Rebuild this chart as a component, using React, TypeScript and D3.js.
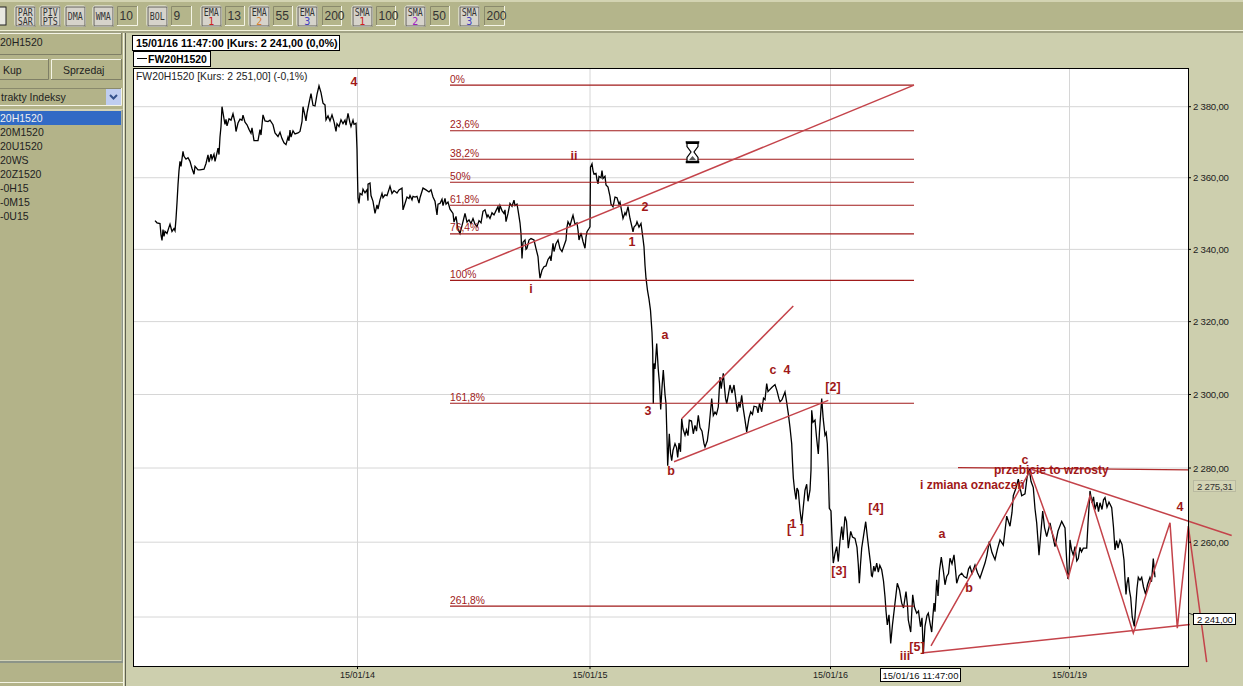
import * as d3 from "d3";

// [bar number, price], one list per trading session
const sessionJan13: [number, number][] = [
  [21, 2348], [23, 2347.4], [26, 2347.2], [27, 2344], [28, 2342.5], [29, 2345.5], [30, 2343.6], [31, 2345], [33, 2344.4], [35, 2346.2],
  [36, 2347], [38, 2345], [40, 2345.8], [41, 2345.2], [42, 2348.5], [43, 2353], [44, 2358], [45, 2362], [46, 2364.6], [47, 2363.2],
  [49, 2367.4], [50, 2366], [52, 2365.2], [54, 2365.6], [56, 2364.6], [58, 2362.6], [60, 2361], [61, 2363.2], [64, 2362.2], [66, 2362.2],
  [70, 2362.4], [72, 2364], [74, 2366.4], [75, 2364.4], [77, 2366.6], [78, 2365.2], [80, 2366.6], [81, 2364.6], [83, 2367], [84, 2368.3],
  [85, 2366.5], [86, 2371.5], [87, 2374.4], [88, 2380], [90, 2376.6], [91, 2375], [92, 2376.4], [93, 2374.6], [95, 2376.6], [97, 2376.2],
  [99, 2378], [101, 2375.6], [102, 2373], [104, 2375.4], [106, 2376.5], [108, 2376.2], [109, 2377.6], [111, 2375.6], [113, 2374.9],
  [115, 2373.6], [117, 2372.5], [118, 2374], [120, 2370.4], [124, 2370.4], [126, 2373.5], [127, 2372], [129, 2377.7], [131, 2376],
  [134, 2375.8], [136, 2376.2], [139, 2374.9], [141, 2372.6], [144, 2371.6], [146, 2372.8], [148, 2371], [150, 2369.8], [152, 2369.3],
  [154, 2371.4], [155, 2370.4], [156, 2373.4], [157, 2371.4], [159, 2373.2], [161, 2372.3], [164, 2372.6], [166, 2373], [168, 2375.8],
  [169, 2380], [171, 2377.4], [172, 2376], [173, 2378.2], [175, 2381], [177, 2383.7], [179, 2380.4], [181, 2380.2], [183, 2383.5],
  [185, 2385.9], [187, 2384], [189, 2381], [191, 2380.5], [192, 2376.3], [194, 2377.4], [196, 2376], [198, 2377.7], [200, 2375.8],
  [202, 2373], [203, 2375.2], [205, 2374.4], [207, 2376.3], [209, 2375.2], [211, 2376.2], [212, 2374.8], [214, 2378.1], [216, 2375.4],
  [217, 2374.4], [219, 2376.2], [220, 2375], [222, 2375.3],
];
const sessionJan14: [number, number][] = [
  [223, 2368], [223.5, 2360.4], [224, 2354.3], [225, 2352.8], [226, 2355.6], [228, 2355.2], [229, 2356.8], [231, 2355.8], [233, 2356.6],
  [234, 2353.6], [234, 2358.2], [236, 2358.5], [237, 2355], [239, 2353.4], [241, 2350], [243, 2352.4], [244, 2351.2], [246, 2353.8],
  [248, 2355.6], [249, 2354.4], [251, 2355.2], [253, 2355], [256, 2357.6], [258, 2355.6], [260, 2356.4], [263, 2355.7], [265, 2356.6],
  [268, 2357.1], [269, 2351], [271, 2352.8], [273, 2354.6], [275, 2354.2], [276, 2355], [278, 2353.8], [279, 2354.8], [281, 2354.6],
  [283, 2354.8], [285, 2352.9], [286, 2354.4], [289, 2357.1], [292, 2356.6], [295, 2356], [297, 2356.6], [299, 2354.6], [301, 2353.4],
  [303, 2349.6], [304, 2352.6], [306, 2352.8], [308, 2354], [309, 2352.2], [311, 2354.2], [312, 2352.6], [314, 2353.2], [316, 2351.2],
  [319, 2350], [320, 2347.6], [322, 2349.2], [324, 2345.6], [326, 2344.4], [328, 2346.6], [331, 2350], [333, 2347.6], [335, 2348.2],
  [337, 2347.2], [339, 2348.6], [341, 2347], [343, 2346.3], [345, 2348], [347, 2347.4], [349, 2350.6], [351, 2351], [353, 2349],
  [354, 2349.6], [356, 2348.6], [358, 2350.2], [360, 2349.6], [362, 2350.8], [364, 2351.9], [365, 2350.2], [366, 2352.2], [368, 2350.8],
  [370, 2350], [371, 2351], [372, 2347.7], [374, 2350], [376, 2352.8], [378, 2352], [380, 2353.7], [381, 2352.2], [383, 2352.6],
  [384, 2351], [386, 2347.4], [387, 2344.4], [388, 2337.5], [389, 2342], [391, 2342.6], [392, 2340], [393, 2340.3], [395, 2342.6],
  [397, 2343], [400, 2342.6], [402, 2340.2], [404, 2338], [405, 2334.6], [406, 2332], [408, 2334.2], [410, 2335.2], [412, 2335.4],
  [414, 2337.2], [416, 2338], [417, 2336.8], [419, 2341.7], [420, 2339.4], [422, 2341.6], [424, 2342.6], [426, 2340.2], [428, 2339.4],
  [430, 2341], [432, 2342.6], [433, 2346.2], [434, 2347.7], [436, 2346.6], [438, 2348.6], [439, 2349.5], [441, 2347], [443, 2347.4],
  [444, 2345.4], [445, 2342.6], [447, 2344.6], [449, 2342.2], [451, 2340.3], [452, 2343.4], [453, 2344.9], [455, 2345.8],
];
const sessionJan15: [number, number][] = [
  [456, 2346.3], [456.5, 2363], [458, 2363.9], [459, 2362], [460, 2361], [462, 2361.2], [463, 2359.4], [464, 2358.3], [465, 2360.4],
  [467, 2360], [468, 2362], [469, 2359.8], [471, 2360.4], [472, 2358], [474, 2357.4], [476, 2354.8], [477, 2352.6], [479, 2351.9],
  [480, 2353.2], [481, 2354.6], [483, 2354.4], [485, 2352.6], [486, 2353.2], [488, 2350.2], [489, 2348.6], [491, 2350.2], [492, 2349.6],
  [494, 2351.9], [496, 2348.6], [498, 2346.2], [499, 2344.9], [500, 2346.2], [502, 2346.8], [503, 2347.7], [505, 2346.2], [507, 2347.2],
  [509, 2343], [510, 2340.7], [511, 2335.6], [512, 2332], [513.5, 2328.6], [515, 2326.2], [516.5, 2323.1], [518, 2317], [518.7, 2312.1],
  [519.3, 2297.5], [520, 2308.5], [521, 2307], [522.7, 2314], [524.3, 2306.7], [525.5, 2303], [526.7, 2295.9], [528, 2302], [529.3, 2306.7],
  [531, 2300], [532, 2297.5], [533, 2288], [533.7, 2280.6], [535.3, 2289.3], [536.5, 2284], [537.7, 2282], [539, 2284.8], [541, 2286.6],
  [542.5, 2285.6], [543.7, 2282.9], [545, 2286.8], [546.5, 2284.4], [547.7, 2293.4], [549, 2290.6], [551, 2288.9], [552.5, 2290.4], [554, 2288.8],
  [555.3, 2293], [557.5, 2292.8], [559.3, 2289.3], [561, 2291.6], [562.5, 2290], [564.3, 2294.3], [566, 2291], [568, 2290], [570, 2286.6],
  [571, 2285.7], [573.3, 2287.4], [575, 2291], [577.7, 2298.9], [579.3, 2294.3], [581, 2295.2], [582.5, 2294.6], [584.3, 2296.6], [585.2, 2301],
  [586, 2304.8], [587.2, 2301.6], [589.3, 2305.8], [590.5, 2302], [591.5, 2299], [592.7, 2297.5], [594.5, 2300.2], [596, 2302.6], [598, 2300.4],
  [600, 2302.6], [601.5, 2299.4], [603.3, 2295.3], [605, 2298], [606, 2296.4], [607.7, 2299.8], [609, 2296.6], [611, 2293], [612.7, 2289.8],
  [615, 2293.6], [616.7, 2295.3], [618.5, 2294.6], [620, 2296.8], [622.7, 2296.6], [624, 2295], [625.5, 2297.6], [627.7, 2295.3], [629.5, 2299],
  [631, 2298.6], [632.7, 2303], [634, 2300.8], [635.3, 2301.2], [638, 2302], [641, 2302.7], [643, 2301], [645, 2298.8], [646, 2298],
  [648, 2298.6], [651, 2300.7], [652.5, 2298.2], [654.3, 2294.8], [656, 2291], [657.7, 2286.6], [658.5, 2281.6], [659.3, 2277.4], [660.5, 2274.2],
  [662, 2271.5], [663, 2274.6], [664.3, 2273.8], [666, 2268.6], [667.7, 2265], [669.5, 2270], [671, 2274], [672.7, 2275.6], [674, 2271],
  [676, 2274], [677, 2279.4], [677.7, 2295.7], [679, 2292.4], [681, 2293], [682.5, 2288.4], [684.3, 2283.8], [685.5, 2290], [687.7, 2298.9],
  [689.2, 2293.4], [691, 2288.9], [692.2, 2289.6], [693.3, 2286.6], [694.3, 2279.4], [695.3, 2269.1],
];
const sessionJan16: [number, number][] = [
  [697, 2268.4], [697.7, 2263.3], [698.5, 2258], [699.3, 2254.4], [701, 2257], [702.7, 2258.8], [704.3, 2254.8], [706, 2260.4], [707.7, 2264.2],
  [709, 2260.6], [711, 2266.9], [712.5, 2265.6], [714.3, 2258.4], [716.7, 2262.9], [718.5, 2261.4], [721, 2261], [723, 2258.6], [724.3, 2254],
  [725.3, 2249], [726.5, 2254], [727.7, 2258.4], [729.5, 2261.6], [731.7, 2265.5], [733.2, 2261.8], [735.3, 2257], [736.5, 2254.4], [737.5, 2251],
  [738.3, 2250.8], [739.8, 2253.6], [741, 2252.2], [742.7, 2254.4], [744.3, 2252], [745.8, 2253.8], [747.7, 2252.6], [749.5, 2249.6], [751, 2245.4],
  [752, 2241.6], [753.3, 2237.9], [755, 2240.6], [756.7, 2233], [758.5, 2238], [761, 2243.7], [763.3, 2249], [765.5, 2247.2], [767.7, 2243.7],
  [769.5, 2242.4], [772, 2246.8], [773.5, 2243], [774.3, 2239.2], [776.7, 2236], [778.7, 2245.9], [780.5, 2242.6], [782.7, 2241], [784.5, 2241.6],
  [786.5, 2237.4], [788, 2239.8], [789.3, 2230.3], [791, 2237.6], [793, 2240.4], [794.3, 2241], [796, 2238.4], [797.7, 2236], [799, 2240.6],
  [800, 2243.7], [801, 2241.4], [802.7, 2249.9], [804, 2245.6], [805.5, 2252.4], [807.3, 2256], [809.5, 2252], [811, 2248.6], [812.7, 2250.8],
  [814.5, 2251.6], [816, 2255.7], [818, 2254.2], [820, 2256.6], [821.5, 2252.6], [822.7, 2249], [825, 2251], [827.7, 2251.7], [830, 2250.8],
  [832.7, 2250.4], [834.5, 2252.8], [836, 2253.5], [838, 2251.6], [841, 2253.9], [843.5, 2251.8], [846, 2250.4], [848.5, 2252.4], [851, 2254.4],
  [853, 2256.6], [855.3, 2260.2], [858, 2257.2], [861, 2255.3], [863.5, 2258.2], [866, 2260.6], [869.3, 2259.2], [871, 2263], [872.7, 2267],
  [876, 2264.3], [878, 2268], [879.3, 2272.5], [882, 2274.6], [884.3, 2277], [887.7, 2272.5], [891, 2273], [893, 2277.4], [895.3, 2279.7],
  [897, 2276.4], [899.3, 2274.7], [901, 2269], [902.7, 2265.2], [904, 2260.4], [905, 2256.5], [907, 2263], [908.7, 2268.4], [910.5, 2264],
  [912.7, 2261.5], [914.5, 2263.4], [916, 2265.2], [918.5, 2262], [921, 2258.8], [924, 2263], [927.7, 2265.6], [931, 2263.8], [932.5, 2256],
  [933.7, 2250.2], [935, 2252],
];
const sessionJan19: [number, number][] = [
  [936, 2260.6], [937.5, 2258], [939.3, 2256.5], [941, 2258.8], [942.8, 2255], [944.3, 2255.6], [946, 2258.6], [947.5, 2257.4], [949.3, 2258.4],
  [952.7, 2258.4], [954, 2265], [956, 2273.8], [958, 2270.6], [959.5, 2272.2], [961, 2268.8], [963, 2270.8], [964.5, 2268.2], [966, 2270.6],
  [968, 2268.8], [969.5, 2271.4], [971, 2272], [973, 2269.4], [975, 2270.8], [977.7, 2269.3], [979.5, 2264], [981, 2257.9], [982.5, 2260.4],
  [984, 2258.4], [986, 2260.6], [988, 2259.4], [990, 2255.2], [991, 2250], [992, 2246], [993, 2249], [994.3, 2250.6], [995.5, 2247],
  [996.7, 2245.2], [998.2, 2240], [1000.3, 2237.5], [1001.5, 2242], [1003, 2247.6], [1004.3, 2250.6], [1006, 2249.8], [1007.7, 2250.6],
  [1009.5, 2248], [1011.7, 2246], [1013.5, 2248.6], [1016, 2250.6], [1017.5, 2249.4], [1019.3, 2255.6], [1020.2, 2253], [1021, 2250.6],
];

const priceGrid = [2380, 2360, 2340, 2320, 2300, 2280, 2260, 2240];
const priceTickValues = [2380, 2360, 2340, 2320, 2300, 2280, 2260];
const sessionTicks = [223.5, 456, 696.5, 935.5];
const sessionLabels = ["15/01/14", "15/01/15", "15/01/16", "15/01/19"];

const fibHigh = 2386.1;
const fibLow = 2331.4;
const fibLevels = [0, 23.6, 38.2, 50, 61.8, 76.4, 100, 161.8, 261.8];
const fibLabels = ["0%", "23,6%", "38,2%", "50%", "61,8%", "76,4%", "100%", "161,8%", "261,8%"];
const fibStartBar = 316;
const fibEndBar = 780;

const fanLine: [number, number][] = [[331, 2334.3], [780, 2386.1]];
const channelUpper: [number, number][] = [[547.7, 2293.4], [659.3, 2324.3]];
const channelLower: [number, number][] = [[540, 2281.7], [694.3, 2298.4]];
const waveZigzag: [number, number][] = [
  [797, 2232.3], [896, 2279.2], [934.3, 2250.5], [956, 2272.5], [999.3, 2235.7], [1036, 2265.2], [1043.3, 2237], [1054.3, 2264.3], [1072.7, 2228],
];
const supportLine: [number, number][] = [[790, 2230.5], [1056, 2238]];
const resistanceLine: [number, number][] = [[898, 2279.6], [1097.7, 2261.8]];
const breakoutLine: [number, number][] = [[824, 2280.1], [1054, 2279.5]];

const waveLabels = ["4", "ii", "2", "1", "i", "a", "3", "b", "c", "4", "[2]", "[", "1", "]", "[3]", "[4]", "a", "b", "[5]", "iii", "c", "4"];
const waveBars = [220, 440, 511, 498, 397, 531, 514, 537, 639, 653, 699, 655, 659, 668, 705, 742, 808, 835, 783, 771, 891, 1046];
const wavePrices = [2385.8, 2365, 2350.6, 2340.8, 2328, 2315.2, 2294.4, 2278, 2305.6, 2305.6, 2301, 2262.4, 2263.8, 2262.4, 2251.2, 2268.2, 2261, 2246.6, 2231, 2228.6, 2281, 2268.4];

const instrumentRows = ["20H1520", "20M1520", "20U1520", "20WS", "20Z1520", "-0H15", "-0M15", "-0U15"];

const toolbarButtons: [string, string, string, number][] = [
  ["PAR", "SAR", "#333", 15], ["PIV", "PTS", "#333", 40], ["DMA", "", "#333", 65], ["WMA", "", "#333", 93], ["BOL", "", "#333", 147],
  ["EMA", "1", "#d02020", 201], ["EMA", "2", "#d88030", 249], ["EMA", "3", "#4040c0", 297],
  ["SMA", "1", "#d02020", 352], ["SMA", "2", "#a020c0", 405], ["SMA", "3", "#4040c0", 459],
];
const toolbarFields: [string, number, number][] = [
  ["10", 117, 21], ["9", 171, 21], ["13", 225, 20], ["55", 273, 20], ["200", 322, 20], ["100", 376, 20], ["50", 430, 20], ["200", 484, 21],
];

const WIDTH = 1243;
const HEIGHT = 686;
const PLOT = { left: 134, right: 1188, top: 69, bottom: 666 };
const FIB_RED = "#a01a1a";
const LINE_RED = "#c4434a";
const LABEL_RED = "#a01818";
const UI_FONT = "'Liberation Sans', Arial, sans-serif";
const BUTTON_FONT = "'Liberation Sans Narrow', 'DejaVu Sans Mono', monospace";

const x = d3.scaleLinear().domain([0, 1054]).range([PLOT.left, PLOT.right]);
const y = d3.scaleLog().domain([2240, 2380]).range([617, 106.7]);

const priceLine = d3
  .line<[number, number]>()
  .x((d) => x(d[0]))
  .y((d) => y(d[1]));

const fmtPrice = d3
  .formatLocale({ decimal: ",", thousands: " ", grouping: [3], currency: ["", ""] })
  .format(",.2f");

const allBars = [...sessionJan13, ...sessionJan14, ...sessionJan15, ...sessionJan16, ...sessionJan19];

function fibPrice(level: number) {
  return fibHigh - (level / 100) * (fibHigh - fibLow);
}

function Bevel({ x0, y0, w, h, fill, inset }: { x0: number; y0: number; w: number; h: number; fill: string; inset?: boolean }) {
  const hi = inset ? "#8a8a6c" : "#f4f4e6";
  const lo = inset ? "#f4f4e6" : "#7f7f66";
  return (
    <g>
      <rect x={x0} y={y0} width={w} height={h} fill={fill} />
      <path d={`M${x0 + 0.5},${y0 + h}V${y0 + 0.5}H${x0 + w}`} fill="none" stroke={hi} />
      <path d={`M${x0 + w - 0.5},${y0}V${y0 + h - 0.5}H${x0}`} fill="none" stroke={lo} />
    </g>
  );
}

function ButtonText({ cx, by, fill, children }: { cx: number; by: number; fill: string; children: string }) {
  return (
    <text
      x={cx}
      y={by}
      textAnchor="middle"
      fontSize={10}
      fontFamily={BUTTON_FONT}
      textLength={children.length > 1 ? 15 : undefined}
      lengthAdjust="spacingAndGlyphs"
      fill={fill}
    >
      {children}
    </text>
  );
}

export default function App() {
  return (
    <svg
      width={WIDTH}
      height={HEIGHT}
      viewBox={`0 0 ${WIDTH} ${HEIGHT}`}
      style={{ position: "absolute", left: 0, top: 0, display: "block" }}
      fontFamily={UI_FONT}
    >
      <rect width={WIDTH} height={HEIGHT} fill="#cdcfae" />

      {/* toolbar */}
      <rect width={WIDTH} height={31} fill="#b4b58b" />
      <line x1={0} x2={WIDTH} y1={1} y2={1} stroke="#f2f2da" />
      <line x1={0} x2={WIDTH} y1={30.5} y2={30.5} stroke="#f2f2da" />
      <line x1={0} x2={WIDTH} y1={32} y2={32} stroke="#77775c" />
      <rect x={-8} y={7} width={14} height={18} fill="#e8e8e0" stroke="#222" />
      {toolbarButtons.map(([top, bottom, color, left]) => (
        <g key={`${top}${left}`}>
          <rect x={left} y={6} width={20.5} height={20.5} rx={2} fill="#d6d3cb" stroke="#f8f8f0" />
          <rect x={left + 1} y={7} width={19} height={19} fill="none" stroke="#44443a" strokeWidth={0.8} />
          {bottom ? (
            <>
              <ButtonText cx={left + 10.2} by={15.5} fill="#333">{top}</ButtonText>
              <ButtonText cx={left + 10.2} by={24.5} fill={color}>{bottom}</ButtonText>
            </>
          ) : (
            <ButtonText cx={left + 10.2} by={20} fill="#333">{top}</ButtonText>
          )}
        </g>
      ))}
      {toolbarFields.map(([label, left, w]) => (
        <g key={`${label}${left}`}>
          <Bevel x0={left} y0={6} w={w} h={20} fill="#b4b58b" inset />
          <text x={left + 2.5} y={20} fontSize={12} fill="#333">{label}</text>
        </g>
      ))}

      {/* left instrument panel */}
      <rect x={0} y={33} width={123} height={653} fill="#b3b389" />
      <Bevel x0={-2} y0={33} w={124} h={22} fill="#b3b389" />
      <text x={0} y={46} fontSize={10.5} fill="#222">20H1520</text>
      <Bevel x0={-2} y0={59} w={51} h={21} fill="#b3b389" />
      <Bevel x0={51} y0={59} w={71} h={21} fill="#b3b389" />
      <text x={3} y={74} fontSize={10.5} fill="#222">Kup</text>
      <text x={63} y={74} fontSize={10.5} fill="#222">Sprzedaj</text>
      <Bevel x0={-2} y0={88} w={124} h={18} fill="#b3b389" inset />
      <text x={1} y={101} fontSize={10.5} fill="#222">trakty Indeksy</text>
      <rect x={106} y={89} width={15} height={16} fill="#bfcdf0" />
      <path d="M110,95l3.5,3.5l3.5,-3.5" fill="none" stroke="#35528c" strokeWidth={2} />
      <rect x={-2} y={110} width={124} height={551} fill="#b3b389" stroke="#f2f2e4" />
      <line x1={122.5} x2={122.5} y1={110} y2={662} stroke="#8c9488" strokeWidth={2} />
      <line x1={0} x2={123} y1={662} y2={662} stroke="#8c9488" strokeWidth={2} />
      <rect x={0} y={111} width={121} height={14} fill="#316ac5" />
      {instrumentRows.map((row, i) => (
        <text key={row} x={0} y={122 + i * 14} fontSize={10.5} fill={i === 0 ? "#f0f0f0" : "#222"}>{row}</text>
      ))}
      <line x1={0} x2={123} y1={682.5} y2={682.5} stroke="#f4f4e4" />
      <line x1={123.5} x2={123.5} y1={33} y2={686} stroke="#f4f4e4" />
      <line x1={125.5} x2={125.5} y1={33} y2={686} stroke="#5f6050" />

      {/* header boxes */}
      <rect x={132.5} y={35.5} width={207} height={15} fill="#fff" stroke="#000" />
      <text x={136} y={47} fontSize={10.8} fontWeight="bold" fill="#000">15/01/16 11:47:00 |Kurs: 2 241,00 (0,0%)</text>
      <rect x={133.5} y={51.5} width={77} height={15} fill="#fff" stroke="#000" />
      <line x1={137} x2={147} y1={58.5} y2={58.5} stroke="#000" />
      <text x={148} y={63} fontSize={10.5} fontWeight="bold" fill="#000">FW20H1520</text>

      {/* plot */}
      <rect x={PLOT.left} y={PLOT.top} width={PLOT.right - PLOT.left} height={PLOT.bottom - PLOT.top} fill="#fff" />
      {priceGrid.map((p) => (
        <line key={p} x1={PLOT.left} x2={PLOT.right} y1={y(p)} y2={y(p)} stroke="#d6d6d6" />
      ))}
      {sessionTicks.map((b) => (
        <line key={b} x1={x(b)} x2={x(b)} y1={PLOT.top} y2={PLOT.bottom} stroke="#d6d6d6" />
      ))}
      <text x={136} y={80} fontSize={10.4} fill="#222">FW20H1520 [Kurs: 2 251,00] (-0,1%)</text>

      <path d={priceLine(allBars) ?? ""} fill="none" stroke="#000" strokeWidth={1.3} strokeLinejoin="miter" />

      {/* fibonacci */}
      {fibLevels.map((level, i) => (
        <g key={level}>
          <line x1={x(fibStartBar)} x2={x(fibEndBar)} y1={y(fibPrice(level))} y2={y(fibPrice(level))} stroke={FIB_RED} strokeWidth={1.1} />
          <text x={x(fibStartBar)} y={y(fibPrice(level)) - 2.5} fontSize={10.3} fill={FIB_RED}>{fibLabels[i]}</text>
        </g>
      ))}

      {/* trend lines */}
      {[fanLine, channelUpper, channelLower, waveZigzag, supportLine, resistanceLine].map((pts, i) => (
        <path key={i} d={priceLine(pts) ?? ""} fill="none" stroke={LINE_RED} strokeWidth={1.5} />
      ))}
      <path d={priceLine(breakoutLine) ?? ""} fill="none" stroke="#b02a2a" strokeWidth={1.3} />

      {/* wave counts */}
      {waveLabels.map((label, i) => (
        <text key={i} x={x(waveBars[i])} y={y(wavePrices[i])} textAnchor="middle" fontSize={12.5} fontWeight="bold" fill={LABEL_RED}>{label}</text>
      ))}
      <text x={994} y={474} fontSize={12} fontWeight="bold" fill={LABEL_RED}>przebicie to wzrosty</text>
      <text x={920} y={489} fontSize={12} fontWeight="bold" fill={LABEL_RED}>i zmiana oznaczeń</text>

      {/* hourglass cursor */}
      <g stroke="#000" fill="#fff">
        <path d="M687,143.5h11v3l-4,5.5l4,5.5v4h-11v-4l4,-5.5l-4,-5.5z" strokeWidth={1.2} />
        <rect x={686} y={141.5} width={13} height={2} fill="#000" strokeWidth={0.5} />
        <rect x={686} y={161} width={13} height={2} fill="#000" strokeWidth={0.5} />
        <path d="M689,160l3.5,-4l3.5,4z" fill="#555" stroke="none" />
      </g>

      {/* plot border and axes */}
      <rect x={PLOT.left - 0.5} y={PLOT.top - 0.5} width={PLOT.right - PLOT.left + 1} height={PLOT.bottom - PLOT.top + 1} fill="none" stroke="#000" />
      {priceTickValues.map((p) => (
        <g key={p}>
          <line x1={PLOT.right} x2={PLOT.right + 3} y1={y(p)} y2={y(p)} stroke="#000" />
          <text x={PLOT.right + 5} y={y(p) + 3.5} fontSize={9.6} letterSpacing={-0.2} fill="#222">{fmtPrice(p)}</text>
        </g>
      ))}
      {sessionTicks.map((b, i) => (
        <g key={b}>
          <line x1={x(b)} x2={x(b)} y1={PLOT.bottom} y2={PLOT.bottom + 3} stroke="#000" />
          <text x={x(b)} y={678} textAnchor="middle" fontSize={9} fill="#222">{sessionLabels[i]}</text>
        </g>
      ))}

      <rect x={880.5} y={668.5} width={80} height={13} fill="#fff" stroke="#000" />
      <text x={920.5} y={678.5} textAnchor="middle" fontSize={9.5} fill="#111">15/01/16 11:47:00</text>
      <path d={`M${PLOT.right + 1},${y(2241)}l5,2`} fill="none" stroke="#333" />
      <rect x={1193.5} y={613.5} width={42} height={11} fill="#fff" stroke="#000" />
      <text x={1197} y={622.5} fontSize={9.6} letterSpacing={-0.2} fill="#111">{fmtPrice(2241)}</text>
      <rect x={1193.5} y={480.5} width={42} height={11} fill="#d4d5b6" stroke="#b9baa0" />
      <text x={1197} y={489.5} fontSize={9.6} letterSpacing={-0.2} fill="#333">{fmtPrice(2275.31)}</text>
    </svg>
  );
}
